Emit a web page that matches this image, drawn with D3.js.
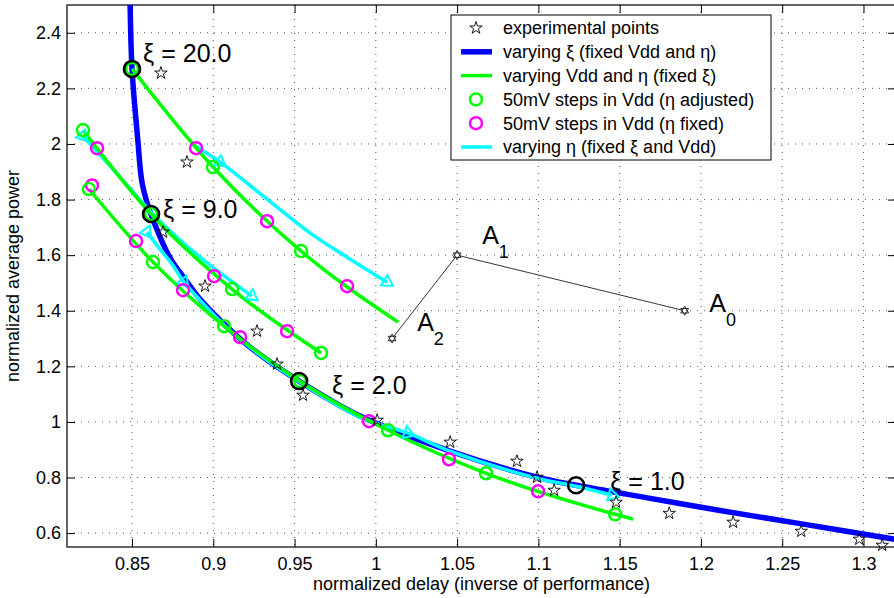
<!DOCTYPE html>
<html>
<head>
<meta charset="utf-8">
<script src="https://d3js.org/d3.v7.min.js"></script>
<style>
body { margin: 0; background: #fff; font-family: "Liberation Sans", Arial, sans-serif; }
svg { display: block; }
</style>
</head>
<body>
<div id="chart"></div>
<script>

var width = 894;
var height = 598;
var plotLeft = 67, plotRight = 896, plotTop = 5, plotBottom = 547;

// ---- data ----
var xTicks = [0.85, 0.9, 0.95, 1, 1.05, 1.1, 1.15, 1.2, 1.25, 1.3];
var xTickLabels = ["0.85", "0.9", "0.95", "1", "1.05", "1.1", "1.15", "1.2", "1.25", "1.3"];
var yTicks = [0.6, 0.8, 1, 1.2, 1.4, 1.6, 1.8, 2, 2.2, 2.4];
var yTickLabels = ["0.6", "0.8", "1", "1.2", "1.4", "1.6", "1.8", "2", "2.2", "2.4"];

// varying xi (fixed Vdd and eta)
var blueCurve = [[0.8484, 2.62], [0.8488, 2.504], [0.85, 2.270], [0.8535, 2.018], [0.8562, 1.860],
  [0.8600, 1.775], [0.8640, 1.712], [0.8690, 1.642], [0.8746, 1.578], [0.8826, 1.514],
  [0.8918, 1.442], [0.9042, 1.366], [0.9226, 1.269], [0.9528, 1.147], [0.9903, 1.021],
  [1.0457, 0.895], [1.0992, 0.801], [1.1232, 0.772], [1.1688, 0.725], [1.2100, 0.683],
  [1.2611, 0.634], [1.3202, 0.577]];

// varying Vdd and eta (fixed xi)
var green1 = [[0.85, 2.270], [0.8998, 1.917], [0.9540, 1.6145], [1.0137, 1.359]];
var green2 = [[0.8198, 2.050], [0.8617, 1.748], [0.9115, 1.478], [0.9663, 1.248]];
var green3 = [[0.8235, 1.838], [0.8629, 1.575], [0.9066, 1.3445], [0.9534, 1.1465],
  [1.0075, 0.970], [1.0678, 0.8153], [1.1472, 0.6677], [1.1583, 0.650]];

// 50mV steps in Vdd (eta adjusted)
var greenSteps = [[0.85, 2.270], [0.8998, 1.917], [0.9540, 1.6145],
  [0.8198, 2.050], [0.8617, 1.748], [0.9115, 1.478], [0.9663, 1.248],
  [0.8235, 1.838], [0.8629, 1.575], [0.9066, 1.3445], [0.9534, 1.1465],
  [1.0075, 0.970], [1.0678, 0.8153], [1.1472, 0.6677]];

// 50mV steps in Vdd (eta fixed)
var magentaSteps = [[0.8894, 1.985], [0.9331, 1.722], [0.9823, 1.4885],
  [0.8285, 1.985], [0.9005, 1.5245], [0.9454, 1.3265],
  [0.8254, 1.851], [0.8525, 1.6505], [0.8814, 1.474], [0.9165, 1.305],
  [0.9958, 1.0025], [1.0450, 0.8657], [1.0998, 0.7505]];

// varying eta (fixed xi and Vdd), with the indices that carry a triangle
var cyan1 = [[0.8869, 1.9996], [0.9042, 1.9348], [0.9331, 1.8016], [0.9614, 1.672], [0.9823, 1.5928], [1.0069, 1.5029]];
var cyan1Marks = [1, 5];
var cyan2 = [[0.8198, 2.0284], [0.8426, 1.8809], [0.8617, 1.7549], [0.8795, 1.6541], [0.898, 1.5641], [0.9238, 1.4525]];
var cyan2Marks = [0, 5];
var cyan3 = [[0.8592, 1.6829], [0.8672, 1.6217], [0.8746, 1.5677], [0.8820, 1.5029], [0.8918, 1.4381],
  [0.9060, 1.3517], [0.9288, 1.2401], [0.9534, 1.1429], [0.9903, 1.0169], [1.0198, 0.9593],
  [1.0457, 0.8945], [1.0992, 0.7973], [1.1232, 0.7685], [1.1454, 0.7361]];
var cyan3Marks = [0, 3, 9, 13];

// experimental points
var experimental = [[0.8678, 2.255], [0.8838, 1.935], [0.8691, 1.683], [0.8949, 1.4885],
  [0.9269, 1.3265], [0.9392, 1.208], [0.9552, 1.096], [1.0008, 1.006], [1.0457, 0.927],
  [1.0868, 0.8585], [1.0992, 0.801], [1.1097, 0.754], [1.1478, 0.711], [1.1805, 0.671],
  [1.2198, 0.639], [1.2617, 0.6065], [1.2974, 0.578], [1.3115, 0.556]];

// A2 -> A1 -> A0
var aPoints = [[1.01, 1.30], [1.05, 1.60], [1.19, 1.40]];
var aLabels = [
  {name: "A", sub: "2", x: 1.0254, y: 1.3265},
  {name: "A", sub: "1", x: 1.0654, y: 1.6397},
  {name: "A", sub: "0", x: 1.2051, y: 1.3949}
];

// optimal points for a few xi values
var xiPoints = [[0.85, 2.270], [0.8617, 1.748], [0.9528, 1.147], [1.1232, 0.772]];
var xiLabels = [
  {text: "\u03be = 20.0", x: 0.8568, y: 2.2948},
  {text: "\u03be = 9.0", x: 0.8691, y: 1.7333},
  {text: "\u03be = 2.0", x: 0.9731, y: 1.0997},
  {text: "\u03be = 1.0", x: 1.1442, y: 0.7541}
];

var legendItems = ["experimental points", "varying \u03be (fixed Vdd and \u03b7)",
  "varying Vdd and \u03b7 (fixed \u03be)", "50mV steps in Vdd (\u03b7 adjusted)",
  "50mV steps in Vdd (\u03b7 fixed)", "varying \u03b7 (fixed \u03be and Vdd)"];

// ---- drawing ----
var svg = d3.select("#chart").append("svg")
  .attr("width", width)
  .attr("height", height);

var x = d3.scaleLinear().domain([0.81, 1.32]).range([plotLeft, plotRight]);
var y = d3.scaleLinear().domain([0.55, 2.5]).range([plotBottom, plotTop]);

svg.append("clipPath").attr("id", "plotClip")
  .append("rect")
  .attr("x", plotLeft).attr("y", plotTop)
  .attr("width", plotRight - plotLeft).attr("height", plotBottom - plotTop);

// grid
var grid = svg.append("g");
grid.selectAll(".gx").data(xTicks).enter().append("line")
  .attr("x1", d => x(d)).attr("x2", d => x(d))
  .attr("y1", plotTop).attr("y2", plotBottom)
  .style("stroke", "#555").style("stroke-width", 1).style("stroke-dasharray", "1,6");
grid.selectAll(".gy").data(yTicks).enter().append("line")
  .attr("x1", plotLeft).attr("x2", plotRight)
  .attr("y1", d => y(d)).attr("y2", d => y(d))
  .style("stroke", "#555").style("stroke-width", 1).style("stroke-dasharray", "1,6");

// axes
var xAxisB = d3.axisBottom(x).tickValues(xTicks).tickSizeInner(-8).tickSizeOuter(0)
  .tickFormat((d, i) => xTickLabels[i]).tickPadding(10);
var xAxisT = d3.axisTop(x).tickValues(xTicks).tickSizeInner(-8).tickSizeOuter(0).tickFormat("");
var yAxisL = d3.axisLeft(y).tickValues(yTicks).tickSizeInner(-8).tickSizeOuter(0)
  .tickFormat((d, i) => yTickLabels[i]).tickPadding(6);
var yAxisR = d3.axisRight(y).tickValues(yTicks).tickSizeInner(-8).tickSizeOuter(0).tickFormat("");

function styleAxis(g) {
  g.select(".domain").remove();
  g.selectAll(".tick line").style("stroke", "#000").style("stroke-width", 1);
  g.selectAll(".tick text").style("font-size", "18px").style("fill", "#000")
    .style("font-family", "'Liberation Sans', Arial, sans-serif");
}
svg.append("g").attr("transform", "translate(0," + plotBottom + ")").call(xAxisB).call(styleAxis);
svg.append("g").attr("transform", "translate(0," + plotTop + ")").call(xAxisT).call(styleAxis);
svg.append("g").attr("transform", "translate(" + plotLeft + ",0)").call(yAxisL).call(styleAxis);
svg.append("g").attr("transform", "translate(" + plotRight + ",0)").call(yAxisR).call(styleAxis);

svg.append("rect")
  .attr("x", plotLeft).attr("y", plotTop)
  .attr("width", plotRight - plotLeft).attr("height", plotBottom - plotTop)
  .style("fill", "none").style("stroke", "#000").style("stroke-width", 1.2);

var plot = svg.append("g").attr("clip-path", "url(#plotClip)");
var line = d3.line().x(d => x(d[0])).y(d => y(d[1])).curve(d3.curveMonotoneX);
var smooth = d3.line().x(d => x(d[0])).y(d => y(d[1])).curve(d3.curveCatmullRom.alpha(0.5));

plot.append("path").datum(blueCurve).attr("d", smooth)
  .style("fill", "none").style("stroke", "#0000ff").style("stroke-width", 5.5);

// cyan curves with triangle marks pointing along the curve
function triPath(r) {
  return "M" + r + ",0L" + (-r / 2) + "," + (r * 0.866) + "L" + (-r / 2) + "," + (-r * 0.866) + "Z";
}
[[cyan1, cyan1Marks], [cyan2, cyan2Marks], [cyan3, cyan3Marks]].forEach(function(c) {
  var pts = c[0];
  plot.append("path").datum(pts).attr("d", smooth)
    .style("fill", "none").style("stroke", "#00ffff").style("stroke-width", 3.5);
  c[1].forEach(function(i) {
    var a = pts[Math.max(i - 1, 0)], b = pts[Math.min(i + 1, pts.length - 1)];
    var ang = Math.atan2(y(b[1]) - y(a[1]), x(b[0]) - x(a[0])) * 180 / Math.PI;
    svg.append("path").attr("d", triPath(7))
      .attr("transform", "translate(" + x(pts[i][0]) + "," + y(pts[i][1]) + ") rotate(" + ang + ")")
      .style("fill", "none").style("stroke", "#00ffff").style("stroke-width", 2);
  });
});

[green1, green2, green3].forEach(function(g) {
  plot.append("path").datum(g).attr("d", line)
    .style("fill", "none").style("stroke", "#00ff00").style("stroke-width", 3.5);
});

svg.selectAll(".mag").data(magentaSteps).enter().append("circle")
  .attr("cx", d => x(d[0])).attr("cy", d => y(d[1])).attr("r", 6)
  .style("fill", "none").style("stroke", "#ff00ff").style("stroke-width", 2.5);

svg.selectAll(".grn").data(greenSteps).enter().append("circle")
  .attr("cx", d => x(d[0])).attr("cy", d => y(d[1])).attr("r", 6)
  .style("fill", "none").style("stroke", "#00ff00").style("stroke-width", 2.5);

// experimental stars
var star = d3.symbol().type(d3.symbolStar).size(48);
svg.selectAll(".star").data(experimental).enter().append("path")
  .attr("d", star)
  .attr("transform", d => "translate(" + x(d[0]) + "," + y(d[1]) + ")")
  .style("fill", "none").style("stroke", "#000").style("stroke-width", 0.9);

// A path with hexagram markers
svg.append("path").datum(aPoints)
  .attr("d", d3.line().x(d => x(d[0])).y(d => y(d[1])))
  .style("fill", "none").style("stroke", "#000").style("stroke-width", 0.8);
function hexagram(r) {
  var p1 = [], p2 = [];
  for (var k = 0; k < 3; k++) {
    var a1 = (-90 + 120 * k) * Math.PI / 180, a2 = (90 + 120 * k) * Math.PI / 180;
    p1.push([r * Math.cos(a1), r * Math.sin(a1)]);
    p2.push([r * Math.cos(a2), r * Math.sin(a2)]);
  }
  return "M" + p1.join("L") + "ZM" + p2.join("L") + "Z";
}
svg.selectAll(".hex").data(aPoints).enter().append("path")
  .attr("d", hexagram(4.5))
  .attr("transform", d => "translate(" + x(d[0]) + "," + y(d[1]) + ")")
  .style("fill", "#fff").style("stroke", "#000").style("stroke-width", 0.8);

var aText = svg.selectAll(".alab").data(aLabels).enter().append("text")
  .attr("x", d => x(d.x)).attr("y", d => y(d.y))
  .style("font-size", "25px").style("fill", "#000");
aText.append("tspan").text(d => d.name);
aText.append("tspan").attr("dy", 14).style("font-size", "18px").text(d => d.sub);

// xi circles and labels
svg.selectAll(".xi").data(xiPoints).enter().append("circle")
  .attr("cx", d => x(d[0])).attr("cy", d => y(d[1])).attr("r", 8)
  .style("fill", "none").style("stroke", "#000").style("stroke-width", 2.6);
svg.selectAll(".xilab").data(xiLabels).enter().append("text")
  .attr("x", d => x(d.x)).attr("y", d => y(d.y))
  .style("font-size", "25px").style("fill", "#000")
  .text(d => d.text);

// axis labels
svg.append("text")
  .attr("x", (plotLeft + plotRight) / 2).attr("y", 590)
  .attr("text-anchor", "middle").style("font-size", "18px")
  .text("normalized delay (inverse of performance)");
svg.append("text")
  .attr("transform", "translate(19," + ((plotTop + plotBottom) / 2) + ") rotate(-90)")
  .attr("text-anchor", "middle").style("font-size", "18px")
  .text("normalized average power");

// legend
var lg = svg.append("g").attr("transform", "translate(451,15)");
lg.append("rect").attr("width", 320).attr("height", 145)
  .style("fill", "#fff").style("stroke", "#000").style("stroke-width", 1);
var rowY = d3.range(legendItems.length).map(i => 13 + i * 23.8);
lg.selectAll(".lt").data(legendItems).enter().append("text")
  .attr("x", 52).attr("y", (d, i) => rowY[i]).attr("dy", "0.35em")
  .style("font-size", "18px").text(d => d);
lg.append("path").attr("d", d3.symbol().type(d3.symbolStar).size(48))
  .attr("transform", "translate(25," + rowY[0] + ")")
  .style("fill", "none").style("stroke", "#000").style("stroke-width", 0.9);
lg.append("line").attr("x1", 10).attr("x2", 41).attr("y1", rowY[1]).attr("y2", rowY[1])
  .style("stroke", "#0000ff").style("stroke-width", 5.5);
lg.append("line").attr("x1", 10).attr("x2", 41).attr("y1", rowY[2]).attr("y2", rowY[2])
  .style("stroke", "#00ff00").style("stroke-width", 3.5);
lg.append("circle").attr("cx", 25).attr("cy", rowY[3]).attr("r", 6)
  .style("fill", "none").style("stroke", "#00ff00").style("stroke-width", 2.5);
lg.append("circle").attr("cx", 25).attr("cy", rowY[4]).attr("r", 6)
  .style("fill", "none").style("stroke", "#ff00ff").style("stroke-width", 2.5);
lg.append("line").attr("x1", 10).attr("x2", 41).attr("y1", rowY[5]).attr("y2", rowY[5])
  .style("stroke", "#00ffff").style("stroke-width", 3.5);

</script>
</body>
</html>
